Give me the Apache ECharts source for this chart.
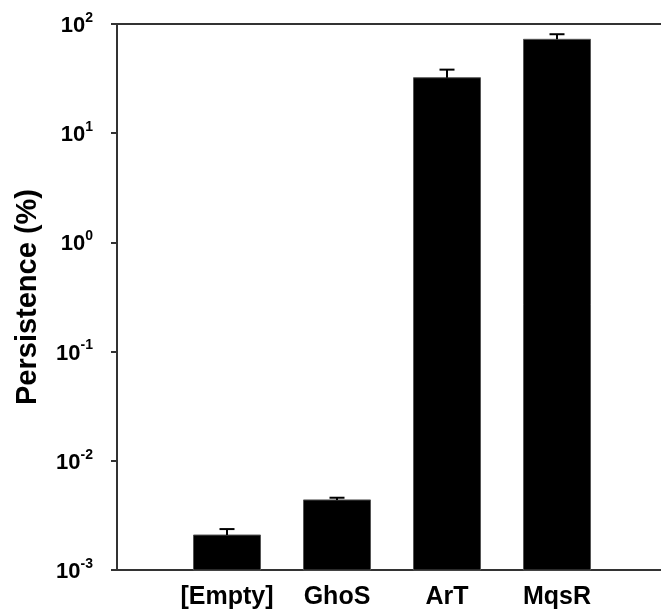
<!DOCTYPE html>
<html>
<head>
<meta charset="utf-8">
<script src="https://cdn.jsdelivr.net/npm/echarts@6/dist/echarts.min.js"></script>
<style>
html,body{margin:0;padding:0;background:#fff;}
#c{width:661px;height:611px;}
</style>
</head>
<body>
<div id="c"></div>
<script>
const categories = ['[Empty]', 'GhoS', 'ArT', 'MqsR'];
const values = [0.00209, 0.00438, 32.2, 72.4];
const upperErrors = [0.00237, 0.00459, 38.2, 80.6];
const yTickExponents = [-3, -2, -1, 0, 1, 2];
const yTitle = 'Persistence (%)';

// pad categories with empty slots so the axis spans beyond bars
const axisCats = [''].concat(categories, ['']);
const yMin = Math.pow(10, yTickExponents[0]);
const yMax = Math.pow(10, yTickExponents[yTickExponents.length - 1]);
const barData = categories.map((c, i) => [i + 1, values[i]]);
const errData = categories.map((c, i) => [i + 1, values[i], upperErrors[i]]);

const FONT = '"Liberation Sans", Arial, sans-serif';
const chart = echarts.init(document.getElementById('c'), null, {renderer: 'canvas'});

chart.setOption({
  animation: false,
  backgroundColor: '#fff',
  grid: {left: 117, top: 24, bottom: 41, width: 550, containLabel: false, outerBoundsMode: 'none'},
  xAxis: [{
    type: 'category',
    data: axisCats,
    boundaryGap: false,
    axisLine: {show: true, lineStyle: {color: '#333', width: 2}},
    axisTick: {show: false},
    axisLabel: {
      interval: 0,
      margin: 15,
      fontFamily: FONT, fontWeight: 'bold', fontSize: 25, color: '#000'
    },
    splitLine: {show: false}
  }, {
    type: 'category',
    position: 'top',
    data: axisCats,
    boundaryGap: false,
    axisLine: {show: true, lineStyle: {color: '#333', width: 2}},
    axisTick: {show: false},
    axisLabel: {show: false},
    splitLine: {show: false}
  }],
  yAxis: {
    type: 'log',
    logBase: 10,
    min: yMin,
    max: yMax,
    name: yTitle,
    nameLocation: 'middle',
    nameRotate: 90,
    nameGap: 75,
    nameTextStyle: {fontFamily: FONT, fontWeight: 'bold', fontSize: 29, color: '#000'},
    axisLine: {show: true, lineStyle: {color: '#333', width: 2}},
    axisTick: {show: true, length: 6, inside: false, lineStyle: {color: '#333', width: 2}},
    splitLine: {show: false},
    minorTick: {show: false},
    axisLabel: {
      margin: 24,
      formatter: function (v) {
        const e = Math.round(Math.log10(v));
        return '{b|10}{s|' + e + '}';
      },
      rich: {
        b: {fontFamily: FONT, fontWeight: 'bold', fontSize: 22, color: '#000', lineHeight: 26, verticalAlign: 'bottom'},
        s: {fontFamily: FONT, fontWeight: 'bold', fontSize: 14, color: '#000', lineHeight: 26, verticalAlign: 'top'}
      }
    }
  },
  series: [{
    type: 'custom',
    data: barData,
    z: 2,
    renderItem: function (params, api) {
      const x = api.value(0);
      const top = api.coord([x, api.value(1)]);
      const base = api.coord([x, yMin]);
      const w = 67;
      return {
        type: 'rect',
        shape: {x: top[0] - w / 2, y: top[1], width: w, height: base[1] - top[1]},
        style: {fill: '#000', stroke: '#555', lineWidth: 1}
      };
    }
  }, {
    type: 'custom',
    data: errData,
    z: 3,
    renderItem: function (params, api) {
      const x = api.value(0);
      const p0 = api.coord([x, api.value(1)]);
      const p1 = api.coord([x, api.value(2)]);
      const style = {stroke: '#000', lineWidth: 2};
      return {
        type: 'group',
        children: [
          {type: 'line', shape: {x1: p0[0], y1: p0[1], x2: p1[0], y2: p1[1]}, style: style},
          {type: 'line', shape: {x1: p1[0] - 7.5, y1: p1[1], x2: p1[0] + 7.5, y2: p1[1]}, style: style}
        ]
      };
    }
  }]
});
</script>
</body>
</html>
